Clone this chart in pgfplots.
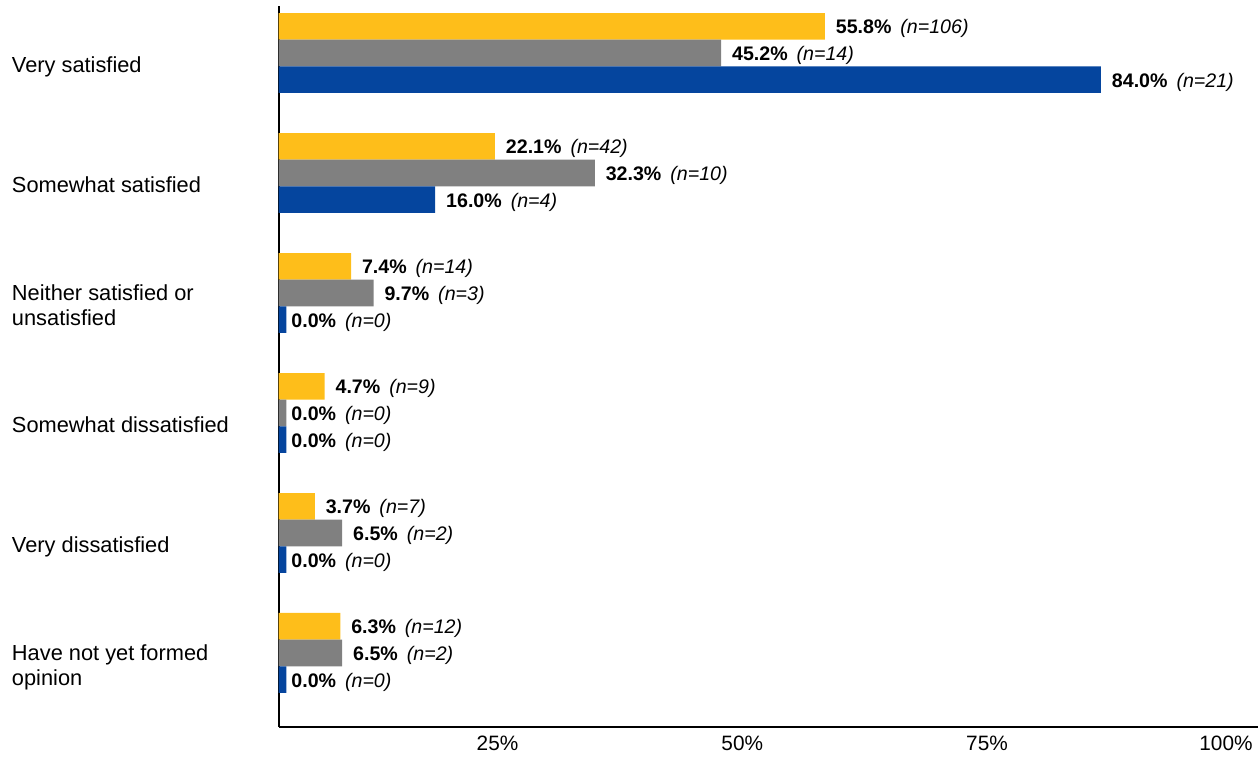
\documentclass[border=0pt]{standalone}
\usepackage{pgfplots}
\pgfplotsset{compat=1.18}
\usepackage{fontspec}
\setmainfont{Liberation Sans}
\definecolor{cyellow}{RGB}{254,190,26}
\definecolor{cgray}{RGB}{128,128,128}
\definecolor{cblue}{RGB}{5,69,158}
\newcommand\catfont{\fontsize{10.9pt}{12.5pt}\selectfont}
\newcommand\barfont{\fontsize{9.8pt}{11pt}\selectfont}
\newcommand\tickfont{\fontsize{10.4pt}{12pt}\selectfont}
\DeclareRobustCommand\lab[2]{\textbf{#1\%}\hspace{4.5pt}\textit{(n=#2)}}
\DeclareRobustCommand\zlab{\hspace*{-3pt}\textbf{0.0\%}\hspace{4.5pt}\textit{(n=0)}}
\newcommand\one[1]{\raisebox{0pt}[7.8pt][0pt]{#1}}
\newcommand\two[2]{\raisebox{0pt}[7.8pt][12.5pt]{\begin{tabular}[t]{@{}l@{}}#1\\#2\end{tabular}}}
\begin{document}
\begin{tikzpicture}
\path[use as bounding box] (0,0) rectangle (630pt,379pt);
\begin{axis}[
  at={(139.3pt,376pt)}, anchor=north west,
  scale only axis, width=489.5pt, height=360.5pt,
  xbar, bar width=0.222,
  xmin=0, xmax=100, ymin=-0.617, ymax=5.392,
  axis x line=bottom, axis y line=left,
  axis line style={-, line width=1pt},
  major tick length=0pt,
  xtick={25,50,75,100},
  xticklabels={25\%,50\%,75\%,100\%},
  xticklabel style={anchor=north east, inner sep=0pt, outer sep=0pt, xshift=-2.5pt, yshift=-4.5pt, font=\tickfont},
  ytick={4.9,3.9,2.9,1.9,0.9,-0.1},
  yticklabels={{\one{Very satisfied}}, {\one{Somewhat satisfied}}, {\two{Neither satisfied or}{unsatisfied}}, {\one{Somewhat dissatisfied}}, {\one{Very dissatisfied}}, {\two{Have not yet formed}{opinion}}},
  yticklabel style={anchor=west, inner sep=0pt, outer sep=0pt, xshift=-133.3pt, font=\catfont},
  point meta=explicit symbolic,
  nodes near coords,
  every node near coord/.append style={anchor=west, inner sep=0pt, outer sep=0pt, xshift=5.5pt, yshift=-1.2pt, font=\barfont, text=black},
  clip=false,
]
\addplot[fill=cyellow, draw=none, bar shift=0.222] coordinates {
  (55.8,5) [\lab{55.8}{106}]
  (22.1,4) [\lab{22.1}{42}]
  (7.4,3)  [\lab{7.4}{14}]
  (4.7,2)  [\lab{4.7}{9}]
  (3.7,1)  [\lab{3.7}{7}]
  (6.3,0)  [\lab{6.3}{12}]
};
\addplot[fill=cgray, draw=none, bar shift=0] coordinates {
  (45.2,5) [\lab{45.2}{14}]
  (32.3,4) [\lab{32.3}{10}]
  (9.7,3)  [\lab{9.7}{3}]
  (0.8,2)  [\zlab]
  (6.5,1)  [\lab{6.5}{2}]
  (6.5,0)  [\lab{6.5}{2}]
};
\addplot[fill=cblue, draw=none, bar shift=-0.222] coordinates {
  (84.0,5) [\lab{84.0}{21}]
  (16.0,4) [\lab{16.0}{4}]
  (0.8,3)  [\zlab]
  (0.8,2)  [\zlab]
  (0.8,1)  [\zlab]
  (0.8,0)  [\zlab]
};
\end{axis}
\end{tikzpicture}
\end{document}
